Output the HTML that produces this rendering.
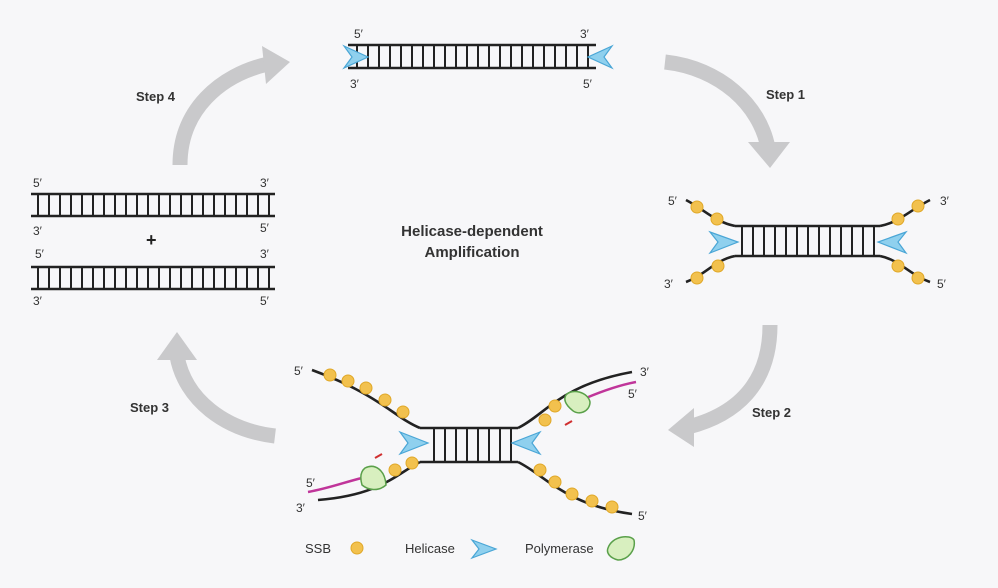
<!DOCTYPE html>
<html><head><meta charset="utf-8"><style>
html,body{margin:0;padding:0;background:#f7f7f9;}
svg{display:block;font-family:"Liberation Sans",Arial,sans-serif;}
.s{stroke:#222;stroke-width:2.6;fill:none}
.r{stroke:#222;stroke-width:2}
.l{font-size:12px;fill:#333}
.st{font-size:13px;font-weight:bold;fill:#333}
.d{fill:#f2c14e;stroke:#e0a828;stroke-width:1}
.h{fill:#8fd0ee;stroke:#4aa6d6;stroke-width:1.2}
.p{fill:#d8efbf;stroke:#5aa04a;stroke-width:1.5}
.ar{fill:none;stroke:#c9c9cb;stroke-width:15}
.ah{fill:#c9c9cb}
</style></head><body>
<svg width="998" height="588" viewBox="0 0 998 588">
<defs>
<pattern id="rung" x="0" y="0" width="11" height="30" patternUnits="userSpaceOnUse"><rect x="4" y="0" width="2" height="30" fill="#222"/></pattern>
</defs>
<!-- arrows -->
<path class="ar" d="M180,165 C180,110 220,75 268,64"/>
<polygon class="ah" points="262,46 290,62 266,84"/>
<path class="ar" d="M665,62 C720,68 760,105 768,148"/>
<polygon class="ah" points="748,142 790,142 770,168"/>
<path class="ar" d="M770,325 C770,385 735,415 688,427"/>
<polygon class="ah" points="694,408 668,430 694,447"/>
<path class="ar" d="M275,436 C225,430 185,400 177,356"/>
<polygon class="ah" points="157,360 177,332 197,360"/>
<text class="st" x="136" y="101">Step 4</text>
<text class="st" x="766" y="99">Step 1</text>
<text class="st" x="130" y="412">Step 3</text>
<text class="st" x="752" y="417">Step 2</text>
<!-- top DNA -->
<rect x="350" y="45" width="245" height="23" fill="url(#rung)"/>
<line class="s" x1="348" y1="45" x2="596" y2="45"/><line class="s" x1="348" y1="68" x2="596" y2="68"/>
<polygon class="h" points="344,46 368,57 344,68 352,57"/>
<polygon class="h" points="612,46 588,57 612,68 604,57"/>
<text class="l" x="354" y="38">5′</text><text class="l" x="580" y="38">3′</text>
<text class="l" x="350" y="88">3′</text><text class="l" x="583" y="88">5′</text>
<!-- left DNAs -->
<rect x="33" y="194" width="240" height="22" fill="url(#rung)"/>
<line class="s" x1="31" y1="194" x2="275" y2="194"/><line class="s" x1="31" y1="216" x2="275" y2="216"/>
<rect x="33" y="267" width="240" height="22" fill="url(#rung)"/>
<line class="s" x1="31" y1="267" x2="275" y2="267"/><line class="s" x1="31" y1="289" x2="275" y2="289"/>
<text class="l" x="33" y="187">5′</text><text class="l" x="260" y="187">3′</text>
<text class="l" x="33" y="235">3′</text><text class="l" x="260" y="232">5′</text>
<text class="l" x="35" y="258">5′</text><text class="l" x="260" y="258">3′</text>
<text class="l" x="33" y="305">3′</text><text class="l" x="260" y="305">5′</text>
<text x="146" y="246" style="font-size:18px;font-weight:bold;fill:#222">+</text>
<text x="472" y="236" text-anchor="middle" style="font-size:15px;font-weight:bold;fill:#333">Helicase-dependent</text>
<text x="472" y="257" text-anchor="middle" style="font-size:15px;font-weight:bold;fill:#333">Amplification</text>
<!-- step1 structure -->
<rect x="738" y="226" width="140" height="30" fill="url(#rung)"/>
<line class="s" x1="735" y1="226" x2="880" y2="226"/><line class="s" x1="735" y1="256" x2="880" y2="256"/>
<path class="s" d="M735,226 C715,222 705,210 686,200"/>
<path class="s" d="M735,256 C715,260 705,275 686,282"/>
<path class="s" d="M880,226 C900,222 910,210 930,200"/>
<path class="s" d="M880,256 C900,260 910,275 930,282"/>
<circle class="d" cx="697" cy="207" r="6"/><circle class="d" cx="717" cy="219" r="6"/>
<circle class="d" cx="697" cy="278" r="6"/><circle class="d" cx="718" cy="266" r="6"/>
<circle class="d" cx="918" cy="206" r="6"/><circle class="d" cx="898" cy="219" r="6"/>
<circle class="d" cx="918" cy="278" r="6"/><circle class="d" cx="898" cy="266" r="6"/>
<polygon class="h" points="710,232 738,242 710,253 718,242"/>
<polygon class="h" points="906,232 878,242 906,253 898,242"/>
<text class="l" x="668" y="205">5′</text><text class="l" x="940" y="205">3′</text>
<text class="l" x="664" y="288">3′</text><text class="l" x="937" y="288">5′</text>
<!-- step2 structure -->
<rect x="428" y="428" width="84" height="34" fill="url(#rung)"/>
<line class="s" x1="420" y1="428" x2="518" y2="428"/><line class="s" x1="420" y1="462" x2="518" y2="462"/>
<path class="s" d="M420,428 C395,418 380,395 312,370"/>
<path class="s" d="M420,462 C395,475 380,495 318,500"/>
<path class="s" d="M518,428 C545,415 560,385 632,372"/>
<path class="s" d="M518,462 C545,475 565,505 632,514"/>
<path d="M308,492 C330,488 345,482 362,478" stroke="#c0359a" stroke-width="2.5" fill="none"/>
<path d="M586,398 C605,390 620,385 636,382" stroke="#c0359a" stroke-width="2.5" fill="none"/>
<g class="d">
<circle cx="330" cy="375" r="6"/><circle cx="348" cy="381" r="6"/><circle cx="366" cy="388" r="6"/><circle cx="385" cy="400" r="6"/><circle cx="403" cy="412" r="6"/>
<circle cx="395" cy="470" r="6"/><circle cx="412" cy="463" r="6"/>
<circle cx="545" cy="420" r="6"/><circle cx="555" cy="406" r="6"/>
<circle cx="540" cy="470" r="6"/><circle cx="555" cy="482" r="6"/><circle cx="572" cy="494" r="6"/><circle cx="592" cy="501" r="6"/><circle cx="612" cy="507" r="6"/>
</g>
<path class="p" d="M365,468 C375,463 385,470 386,485 C378,492 368,490 362,485 C360,478 360,472 365,468Z"/>
<path class="p" d="M566,395 C572,388 588,392 590,402 C590,412 578,416 572,410 C566,405 563,400 566,395Z"/>
<polygon class="h" points="400,432 428,443 400,454 408,443"/>
<polygon class="h" points="540,432 512,443 540,454 532,443"/>
<line x1="375" y1="458" x2="382" y2="454" stroke="#d03030" stroke-width="2"/>
<line x1="565" y1="425" x2="572" y2="421" stroke="#d03030" stroke-width="2"/>
<text class="l" x="294" y="375">5′</text><text class="l" x="640" y="376">3′</text>
<text class="l" x="628" y="398">5′</text><text class="l" x="306" y="487">5′</text>
<text class="l" x="296" y="512">3′</text><text class="l" x="638" y="520">5′</text>
<!-- legend -->
<text class="l" x="305" y="553" style="font-size:13px">SSB</text>
<circle class="d" cx="357" cy="548" r="6"/>
<text class="l" x="405" y="553" style="font-size:13px">Helicase</text>
<polygon class="h" points="472,540 496,549 472,558 479,549"/>
<text class="l" x="525" y="553" style="font-size:13px">Polymerase</text>
<path class="p" d="M608,548 C612,536 630,534 634,540 C636,550 628,560 618,560 C610,558 606,553 608,548Z"/>
</svg>
</body></html>
